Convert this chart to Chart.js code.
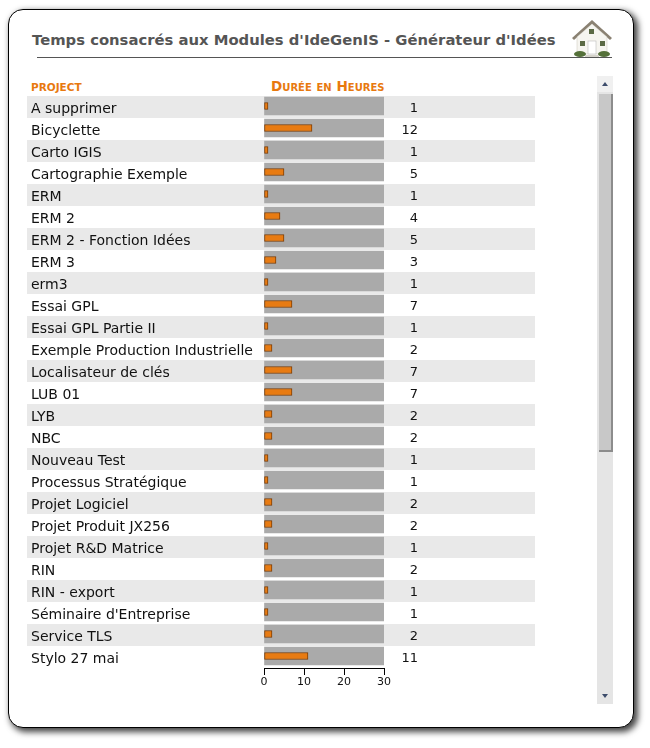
<!DOCTYPE html>
<html>
<head>
<meta charset="utf-8">
<title>Temps consacrés</title>
<script src="https://cdn.jsdelivr.net/npm/chart.js@4"></script>
<style>
html, body { margin: 0; padding: 0; background: #fff; overflow: hidden; }
body { width: 650px; height: 748px; position: relative; font-family: "DejaVu Sans", sans-serif; }
#card { position: absolute; left: 8px; top: 9px; width: 626px; height: 719px; box-sizing: border-box; background: #fff;
    border: 1.5px solid #000; border-radius: 15px; box-shadow: 3px 3px 6px 1px #444; }
#title { position: absolute; left: 32px; top: 31px; font-size: 14.8px; font-weight: bold; color: #555; white-space: nowrap; }
#rule { position: absolute; left: 37px; top: 57px; width: 575px; height: 1px; background: #555; }
#house { position: absolute; left: 571px; top: 19px; }
.head { position: absolute; color: #e8790f; font-weight: bold; font-variant: small-caps; white-space: nowrap; }
#headProject { left: 31px; top: 81px; font-size: 10.5px; }
#headHours { left: 271px; top: 78px; font-size: 13.6px; }
#chartBox { position: absolute; left: 0; top: 0; width: 650px; height: 748px; }
.sb { position: absolute; }
</style>
</head>
<body>
<div id="card"></div>
<div id="title">Temps consacrés aux Modules d'IdeGenIS - Générateur d'Idées</div>
<div id="rule"></div>
<svg id="house" width="42" height="40" viewBox="0 0 42 40">
    <polygon points="21,1 1,19 3,21 21,5 39,21 41,19" fill="#8a8172"/>
    <polygon points="21,5 6,18 6,35 36,35 36,18" fill="#f6f5f0" stroke="#c9c6bb" stroke-width="0.5"/>
    <rect x="18" y="10" width="5" height="5" fill="#5b6a45"/>
    <rect x="9" y="22" width="5" height="5" fill="#5b6a45"/>
    <rect x="29" y="22" width="5" height="5" fill="#5b6a45"/>
    <rect x="17" y="22" width="8" height="13" fill="#fff" stroke="#bbb" stroke-width="0.6"/>
    <ellipse cx="9" cy="35" rx="6" ry="3" fill="#55713a"/>
    <ellipse cx="33" cy="35" rx="6" ry="3" fill="#55713a"/>
    <rect x="14" y="36" width="14" height="2" fill="#d5d3cb"/>
</svg>
<div class="head" id="headProject">PROJECT</div>
<div class="head" id="headHours">Durée en Heures</div>

<div class="sb" style="left:597px;top:76px;width:16px;height:628px;background:#e5e5e5"></div>
<div class="sb" style="left:597px;top:76px;width:16px;height:16px;background:#f0f0f0"></div>
<div class="sb" style="left:599px;top:94px;width:12px;height:356px;background:#c8c8c8;border-right:2px solid #8c8c8c;border-bottom:2px solid #8c8c8c"></div>
<svg class="sb" style="left:597px;top:76px" width="16" height="16"><polygon points="8,6 5,10 11,10" fill="#3d4c6b"/></svg>
<svg class="sb" style="left:597px;top:688px" width="16" height="16"><polygon points="5,6 11,6 8,10" fill="#3d4c6b"/></svg>

<div id="chartBox"><canvas id="chart" width="650" height="748"></canvas></div>

<script>
// Projects and hours, top to bottom
const projects = ['A supprimer', 'Bicyclette', 'Carto IGIS', 'Cartographie Exemple', 'ERM', 'ERM 2', 'ERM 2 - Fonction Idées',
    'ERM 3', 'erm3', 'Essai GPL', 'Essai GPL Partie II', 'Exemple Production Industrielle', 'Localisateur de clés', 'LUB 01',
    'LYB', 'NBC', 'Nouveau Test', 'Processus Stratégique', 'Projet Logiciel', 'Projet Produit JX256', 'Projet R&D Matrice',
    'RIN', 'RIN - export', "Séminaire d'Entreprise", 'Service TLS', 'Stylo 27 mai'];
const hours = [1, 12, 1, 5, 1, 4, 5, 3, 1, 7, 1, 2, 7, 7, 2, 2, 1, 1, 2, 2, 1, 2, 1, 1, 2, 11];
const xTicks = [0, 10, 20, 30];
const xMax = 30;

// Alternating row bands behind the chart
const rowBands = {
    id: 'rowBands',
    beforeDraw(chart) {
        const ctx = chart.ctx;
        const y = chart.scales.y;
        ctx.save();
        ctx.fillStyle = '#e9e9e9';
        projects.forEach((name, i) => {
            if (i % 2 === 0) {
                ctx.fillRect(27, y.getPixelForValue(i) - 10, 508, 22);
            }
        });
        ctx.restore();
    }
};

// Project names on the left, hour values to the right of the bars
const rowLabels = {
    id: 'rowLabels',
    afterDraw(chart) {
        const ctx = chart.ctx;
        const y = chart.scales.y;
        ctx.save();
        ctx.fillStyle = '#111';
        ctx.textBaseline = 'middle';
        ctx.font = '14px "DejaVu Sans"';
        ctx.textAlign = 'left';
        projects.forEach((name, i) => ctx.fillText(name, 31, y.getPixelForValue(i) + 3));
        ctx.font = '13px "DejaVu Sans"';
        ctx.textAlign = 'right';
        hours.forEach((h, i) => ctx.fillText(h, 418, y.getPixelForValue(i) + 3));
        ctx.restore();
    }
};

new Chart(document.getElementById('chart'), {
    type: 'bar',
    data: {
        labels: projects,
        datasets: [
            {
                data: hours,
                backgroundColor: '#e87b12',
                borderColor: '#7a3c05',
                borderWidth: 1,
                borderSkipped: false,
                barThickness: 7,
                grouped: false,
                order: 1
            },
            {
                data: projects.map(() => xMax),
                backgroundColor: '#aaaaaa',
                barThickness: 18,
                grouped: false,
                order: 2
            }
        ]
    },
    options: {
        indexAxis: 'y',
        responsive: false,
        animation: false,
        layout: { padding: { left: 31, right: 266, top: 95, bottom: 81 } },
        plugins: { legend: { display: false }, tooltip: { enabled: false } },
        scales: {
            x: {
                position: { y: 25.59 },
                min: 0,
                max: xMax,
                afterBuildTicks: scale => { scale.ticks = xTicks.map(v => ({ value: v })); },
                grid: { drawOnChartArea: false, drawTicks: true, tickLength: 6, color: '#000' },
                border: { display: true, color: '#000' },
                ticks: { color: '#111', font: { family: '"DejaVu Sans"', size: 11 }, padding: 1, maxRotation: 0 }
            },
            y: {
                afterFit: scale => { scale.width = 233; },
                grid: { display: false, drawTicks: false },
                border: { display: false },
                ticks: { display: false }
            }
        }
    },
    plugins: [rowBands, rowLabels]
});
</script>
</body>
</html>
